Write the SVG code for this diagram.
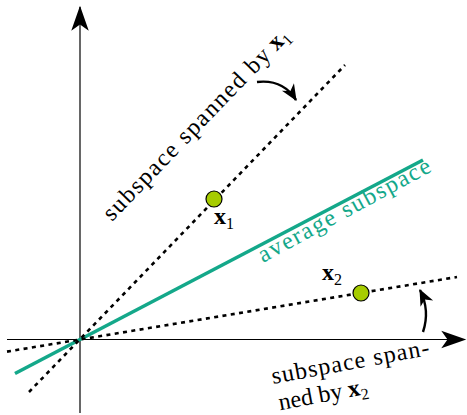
<svg xmlns="http://www.w3.org/2000/svg" width="467" height="415" viewBox="0 0 467 415">
<style>
.axis{stroke:#000;stroke-width:1.2;fill:none}
.dot{stroke:#000;stroke-width:2.6;fill:none;stroke-dasharray:4 4.4}
.avg{stroke:#14a88a;stroke-width:3.6;fill:none}
.arr{stroke:#000;stroke-width:2.4;fill:none}
.pt{fill:#a6cc00;stroke:#000;stroke-width:1.2}
text{font-family:'Liberation Serif','Times New Roman',serif;font-size:24px;fill:#000}
.b{font-weight:bold}
.s{font-size:16px}
.g{fill:#14a88a}
</style>
<defs>
<marker id="ah" markerUnits="userSpaceOnUse" markerWidth="30" markerHeight="30" refX="0" refY="0" viewBox="-22 -10 24 20" orient="auto">
<path d="M1,0 L-19,-7 L-14,0 L-19,7 Z" fill="#000"/>
</marker>
<marker id="sh" markerUnits="userSpaceOnUse" markerWidth="20" markerHeight="20" refX="0" refY="0" viewBox="-15 -8 17 16" orient="auto">
<path d="M1,0 L-13,-6 L-9,0 L-13,6 Z" fill="#000"/>
</marker>
</defs>
<g id="connectors">
<line class="axis" x1="80" y1="413" x2="80" y2="7" marker-end="url(#ah)"/>
<line class="axis" x1="7" y1="339.5" x2="465" y2="339.5" marker-end="url(#ah)"/>
<line class="avg" x1="15" y1="373.5" x2="423" y2="160"/>
<line class="dot" x1="29" y1="392" x2="345" y2="65"/>
<line class="dot" x1="7" y1="351.6" x2="457" y2="277"/>
<path class="arr" d="M257,82 Q283,79 296,100" marker-end="url(#sh)"/>
<path class="arr" d="M423,332 C428,317 426,302 420,290" marker-end="url(#sh)"/>
</g>
<g id="x1">
<circle class="pt" cx="214" cy="199" r="8"/>
<text x="214" y="224"><tspan class="b">x</tspan><tspan class="s" dy="5">1</tspan></text>
</g>
<g id="x2">
<circle class="pt" cx="361" cy="293" r="8"/>
<text x="322" y="280"><tspan class="b">x</tspan><tspan class="s" dy="5">2</tspan></text>
</g>
<g id="label-x1" transform="translate(112,222) rotate(-46)">
<text x="0" y="0" textLength="230" lengthAdjust="spacing">subspace spanned by</text>
<text x="237" y="0"><tspan class="b">x</tspan><tspan class="s" dy="5">1</tspan></text>
</g>
<g id="label-avg" transform="translate(263,263) rotate(-28.5)">
<text class="g" x="0" y="0" textLength="193" lengthAdjust="spacing">average subspace</text>
</g>
<g id="label-x2" transform="translate(273,384) rotate(-10.5)">
<text x="0" y="0" textLength="160" lengthAdjust="spacing">subspace span-</text>
<text x="2" y="27">ned by <tspan class="b">x</tspan><tspan class="s" dy="5">2</tspan></text>
</g>
</svg>
